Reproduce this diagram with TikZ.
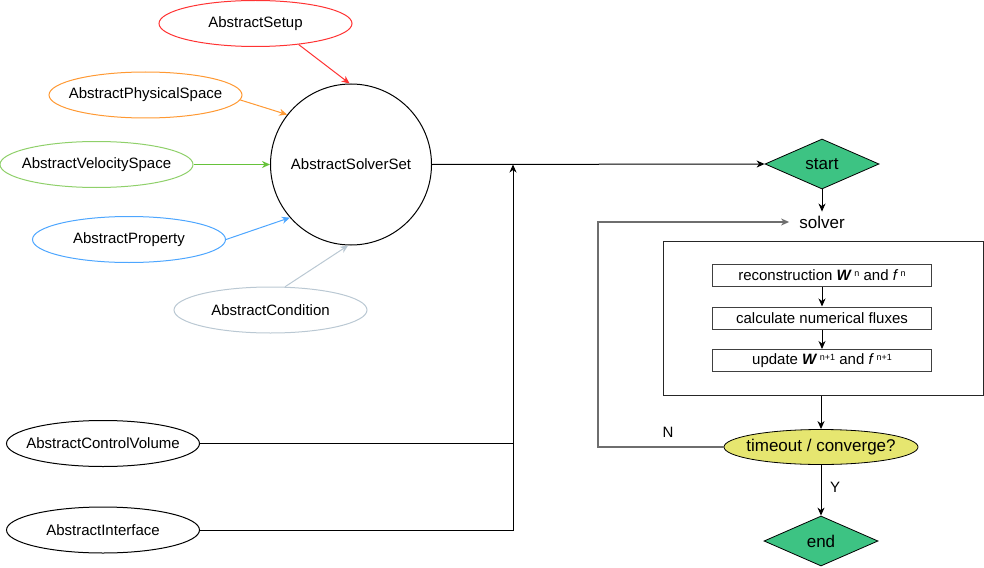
\documentclass[tikz,border=0pt]{standalone}
\usepackage{fontspec}
\setmainfont{Liberation Sans}
\usetikzlibrary{shapes.geometric,arrows.meta}

\definecolor{cRed}{HTML}{FF3333}
\definecolor{cOrange}{HTML}{FF9933}
\definecolor{cGreenE}{HTML}{8FD06A}
\definecolor{cGreen}{HTML}{66C23A}
\definecolor{cBlue}{HTML}{4DA6FF}
\definecolor{cSlate}{HTML}{BAC8D3}
\definecolor{cTerm}{HTML}{3DC383}
\definecolor{cDecide}{HTML}{E6E670}
\definecolor{cLoop}{HTML}{6E6E6E}

% zero-width label so that the outline size comes only from the minimum sizes
\newcommand\zw[1]{\makebox[0pt]{#1}}
\newcommand\sups[1]{\,\raisebox{0.55ex}{\fontsize{9}{9}\selectfont #1}}

\tikzset{
  base/.style={font=\fontsize{15}{18}\selectfont, inner sep=0pt},
  classbox/.style={base, ellipse, draw, line width=1pt,
    minimum width=193pt, minimum height=46pt},
  hub/.style={base, circle, draw, line width=1pt, minimum size=161pt},
  terminal/.style={diamond, draw, fill=cTerm, line width=0.8pt,
    minimum width=114pt, minimum height=50pt, inner sep=0pt,
    font=\fontsize{17}{20}\selectfont},
  stepbox/.style={draw=black!75, line width=1pt, minimum width=219pt,
    minimum height=22pt, inner sep=0pt, font=\fontsize{15}{17}\selectfont},
  frame/.style={draw=black!85, line width=1pt, minimum width=320pt,
    minimum height=154pt, inner sep=0pt},
  decide/.style={ellipse, draw, fill=cDecide, line width=0.8pt,
    minimum width=194pt, minimum height=35pt, inner sep=0pt,
    font=\fontsize{17}{20}\selectfont},
  flowtxt/.style={font=\fontsize{17}{20}\selectfont, inner sep=0pt},
  arr/.style={-{Stealth[length=8pt,width=7pt,inset=2.5pt]}, line width=1pt},
  link/.style={line width=1pt},
}

\begin{document}
\begin{tikzpicture}[x=1pt,y=-1pt]
\useasboundingbox (0,0) rectangle (984,567);

% component classes
\node[classbox, draw=cRed]    (setup) at (255.5,23.5) {\zw{AbstractSetup}};
\node[classbox, draw=cOrange] (phys)  at (145.5,95)   {\zw{AbstractPhysicalSpace}};
\node[classbox, draw=cGreenE] (vel)   at (96.5,164.5) {\zw{AbstractVelocitySpace}};
\node[classbox, draw=cBlue]   (prop)  at (129,239.5)  {\zw{AbstractProperty}};
\node[classbox, draw=cSlate]  (cond)  at (270.5,310)  {\zw{AbstractCondition}};
\node[classbox, draw=black]   (cv)    at (103,443.5)  {\zw{AbstractControlVolume}};
\node[classbox, draw=black]   (itf)   at (103,530)    {\zw{AbstractInterface}};

\node[hub] (set) at (351,164.5) {AbstractSolverSet};

\draw[arr, cRed]    (setup.-26) -- (set.91);
\draw[arr, cOrange] (phys.-3)   -- (set.142);
\draw[arr, cGreen]  (vel.east)  -- (set.west);
\draw[arr, cBlue]   (prop.east) -- (set.221);
\draw[arr, cSlate]  (cond.58)   -- (set.-92);

% flowchart
\node[terminal] (start) at (822,164) {start};
\node[flowtxt]  (solver) at (822,222) {solver};
\node[frame]    (loopbox) at (823,318) {};
\node[stepbox]  (b1) at (822,275) {reconstruction \textbf{\textit{W}}\sups{n} and \textit{f}\sups{n}};
\node[stepbox]  (b2) at (822,318) {calculate numerical fluxes};
\node[stepbox]  (b3) at (822,360.5) {update \textbf{\textit{W}}\sups{n+1} and \textit{f}\sups{n+1}};
\node[decide]   (dec) at (821,447) {\zw{timeout / converge?}};
\node[terminal] (stop) at (821,541) {end};

% merging connectors into the solver set line
\coordinate (j) at (513,164.5);
\coordinate (lp) at (598,222);
\draw[arr] (set.east) -- (start.west);
\draw[link] (cv.east) -- (cv.east -| j);
\draw[arr] (itf.east) -| (j);

\draw[arr] (start.south) -- ([yshift=4pt]solver.north);
\draw[arr] (b1.south) -- (b2.north);
\draw[arr] (b2.south) -- (b3.north);
\draw[arr] (loopbox.south -| dec.north) -- (dec.north);
\draw[arr] (dec.south) -- (stop.north);
\draw[arr, cLoop, line width=1.3pt] (dec.west) -| (lp) -- ([xshift=-10pt]solver.west);

\node[flowtxt, font=\fontsize{15}{18}\selectfont] (nlab) at (668,432) {N};
\node[flowtxt, font=\fontsize{15}{18}\selectfont] (ylab) at (835,487) {Y};
\end{tikzpicture}
\end{document}
